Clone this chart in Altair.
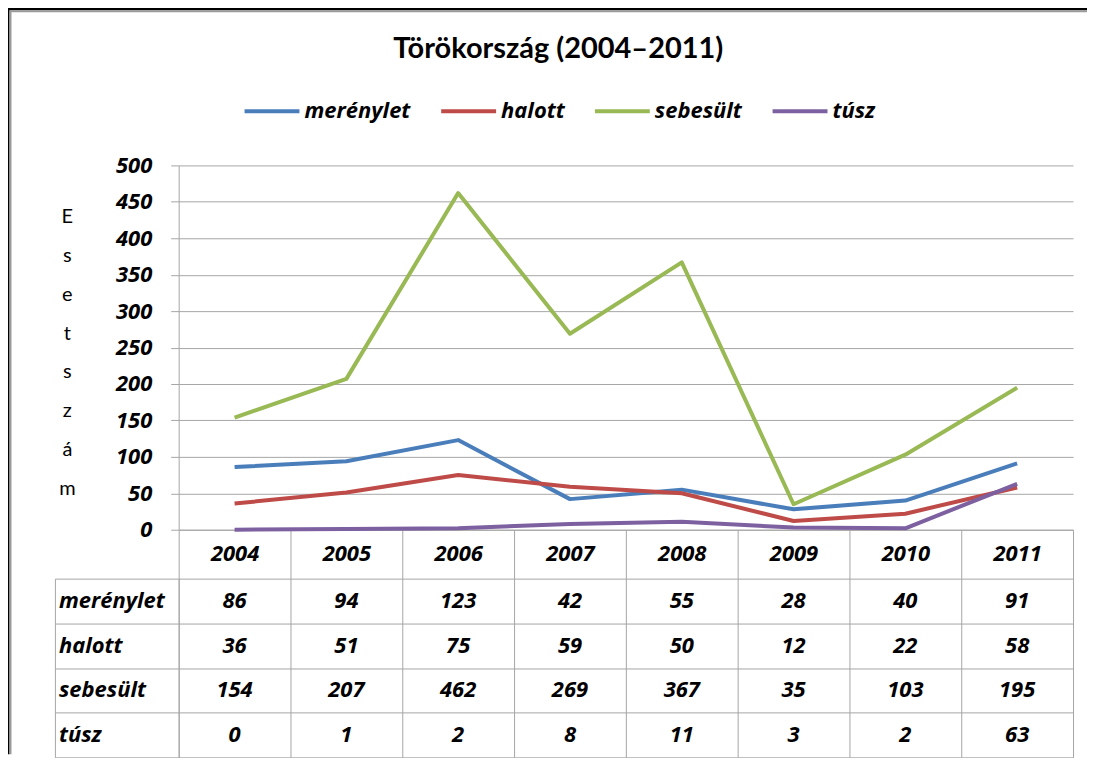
import altair as alt
import pandas as pd

# ---- data ----
years = [2004, 2005, 2006, 2007, 2008, 2009, 2010, 2011]
series_names = ["merénylet", "halott", "sebesült", "túsz"]
merenylet = [86, 94, 123, 42, 55, 28, 40, 91]
halott = [36, 51, 75, 59, 50, 12, 22, 58]
sebesult = [154, 207, 462, 269, 367, 35, 103, 195]
tusz = [0, 1, 2, 8, 11, 3, 2, 63]
series_colors = ["#4A7EBB", "#BE4B48", "#98B954", "#7D60A0"]
y_ticks = [0, 50, 100, 150, 200, 250, 300, 350, 400, 450, 500]
y_title_letters = ["E", "s", "e", "t", "s", "z", "á", "m"]
chart_title = "Törökország (2004–2011)"

series_values = [merenylet, halott, sebesult, tusz]
records = []
for si, (name, vals) in enumerate(zip(series_names, series_values)):
    for yr, v in zip(years, vals):
        records.append({"series": name, "order": si, "year": yr, "value": v})
df = pd.DataFrame(records)
names_df = pd.DataFrame({"series": series_names, "order": list(range(len(series_names)))})
frame_df = pd.DataFrame({"frame": [0]})

FONT = "Open Sans"
TITLE_FONT = "Lato"
FS = 22
GRID = "#a6a6a6"
x_domain = [years[0] - 0.5, years[-1] + 0.5]
boundaries = [y - 0.5 for y in years] + [years[-1] + 0.5]
header_values = sorted(boundaries + years)
row_bounds = list(range(len(series_names) + 1))

x_scale = alt.Scale(domain=x_domain, nice=False, zero=False)
row_scale = alt.Scale(domain=[0, len(series_names)], reverse=True, nice=False, zero=False)

# ---- top panel: lines ----
lines = alt.Chart(df).mark_line(strokeWidth=4, strokeJoin="round").encode(
    x=alt.X(
        "year:Q",
        scale=x_scale,
        axis=alt.Axis(
            values=header_values,
            title=None,
            domainColor=GRID,
            tickColor=GRID,
            tickSize=49,
            tickOpacity={"condition": {"test": "datum.value % 1 == 0", "value": 0}, "value": 1},
            labelExpr="datum.value % 1 == 0 ? '' + datum.value : ''",
            labelFont=FONT,
            labelFontSize=FS,
            labelFontWeight="bold",
            labelFontStyle="italic",
            labelColor="black",
            labelBaseline="middle",
            labelPadding=-25,
            labelOverlap=False,
            labelFlush=False,
            grid=False,
        ),
    ),
    y=alt.Y(
        "value:Q",
        scale=alt.Scale(domain=[0, 500], nice=False),
        axis=alt.Axis(
            values=y_ticks,
            tickSize=8,
            tickColor=GRID,
            domainColor=GRID,
            gridColor=GRID,
            labelFont=FONT,
            labelFontSize=FS,
            labelFontWeight="bold",
            labelFontStyle="italic",
            labelColor="black",
            labelPadding=19,
            title=y_title_letters,
            titleAngle=0,
            titleX=-112,
            titleY=51,
            titleAlign="center",
            titleBaseline="middle",
            titleLineHeight=39,
            titleFont=TITLE_FONT,
            titleFontSize=20,
            titleFontWeight="normal",
            titleColor="black",
        ),
    ),
    color=alt.Color(
        "series:N",
        scale=alt.Scale(domain=series_names, range=series_colors),
        legend=alt.Legend(
            title=None,
            orient="none",
            direction="horizontal",
            legendX=188,
            legendY=-84,
            symbolType="stroke",
            symbolSize=3025,
            symbolStrokeWidth=4,
            labelFont=FONT,
            labelFontSize=FS,
            labelFontWeight="bold",
            labelFontStyle="italic",
            labelColor="black",
            labelOffset=3,
            columnPadding=22,
        ),
    ),
    detail="order:Q",
).properties(
    width=896,
    height=365,
    title=alt.TitleParams(
        text=chart_title, font=TITLE_FONT, fontSize=29, fontWeight="bold",
        color="black", anchor="start", frame="group", dx=215, offset=91,
    ),
)

# ---- corner panel: carries the outer frame of the picture ----
blank = alt.Chart(names_df).mark_point(opacity=0).encode(
    x=alt.X("order:Q", axis=None),
    y=alt.Y("order:Q", axis=None),
)
frame_top = alt.Chart(frame_df).mark_rule(color="black", strokeWidth=3).encode(
    x=alt.value(-47), x2=alt.value(1034), y=alt.value(-157)
)
frame_top_in = alt.Chart(frame_df).mark_rule(color="#9a9a9a", strokeWidth=2).encode(
    x=alt.value(-45.5), x2=alt.value(1034), y=alt.value(-154.5)
)
frame_left = alt.Chart(frame_df).mark_rule(color="black", strokeWidth=3).encode(
    y=alt.value(-157), y2=alt.value(590), x=alt.value(-47)
)
frame_left_in = alt.Chart(frame_df).mark_rule(color="#9a9a9a", strokeWidth=2).encode(
    y=alt.value(-155.5), y2=alt.value(590), x=alt.value(-44.5)
)
corner = alt.layer(blank, frame_top, frame_top_in, frame_left, frame_left_in).properties(
    width=124, height=365
)

# ---- table: row labels ----
labels_panel = alt.Chart(names_df).transform_calculate(
    mid="datum.order + 0.5", x0="0"
).mark_text(
    align="left", baseline="middle", dx=4,
    font=FONT, fontSize=FS, fontWeight="bold", fontStyle="italic", color="black",
).encode(
    x=alt.X("x0:Q", scale=alt.Scale(domain=[0, 1], nice=False),
            axis=alt.Axis(values=[0, 1], grid=True, gridColor=GRID, labels=False,
                          ticks=False, domain=False, title=None)),
    y=alt.Y("mid:Q", scale=row_scale,
            axis=alt.Axis(values=row_bounds, grid=True, gridColor=GRID, labels=False,
                          ticks=False, domain=False, title=None)),
    text="series:N",
).properties(width=124, height=179)

# ---- table: values ----
values_panel = alt.Chart(df).transform_calculate(
    mid="datum.order + 0.5"
).mark_text(
    align="center", baseline="middle",
    font=FONT, fontSize=FS, fontWeight="bold", fontStyle="italic", color="black",
).encode(
    x=alt.X("year:Q", scale=x_scale,
            axis=alt.Axis(values=boundaries, grid=True, gridColor=GRID, labels=False,
                          ticks=False, domain=False, title=None)),
    y=alt.Y("mid:Q", scale=row_scale,
            axis=alt.Axis(values=row_bounds, grid=True, gridColor=GRID, labels=False,
                          ticks=False, domain=False, title=None)),
    text="value:Q",
).properties(width=896, height=179)

chart = alt.concat(
    corner, lines, labels_panel, values_panel,
    columns=2,
    spacing=alt.RowColnumber(row=49, column=0),
    bounds="flush",
).properties(
    padding={"left": -2, "top": -2, "right": 0, "bottom": 0},
    background="white",
).configure_view(stroke=None)

chart.save("out.html", embed_options={"renderer": "svg", "actions": False})
